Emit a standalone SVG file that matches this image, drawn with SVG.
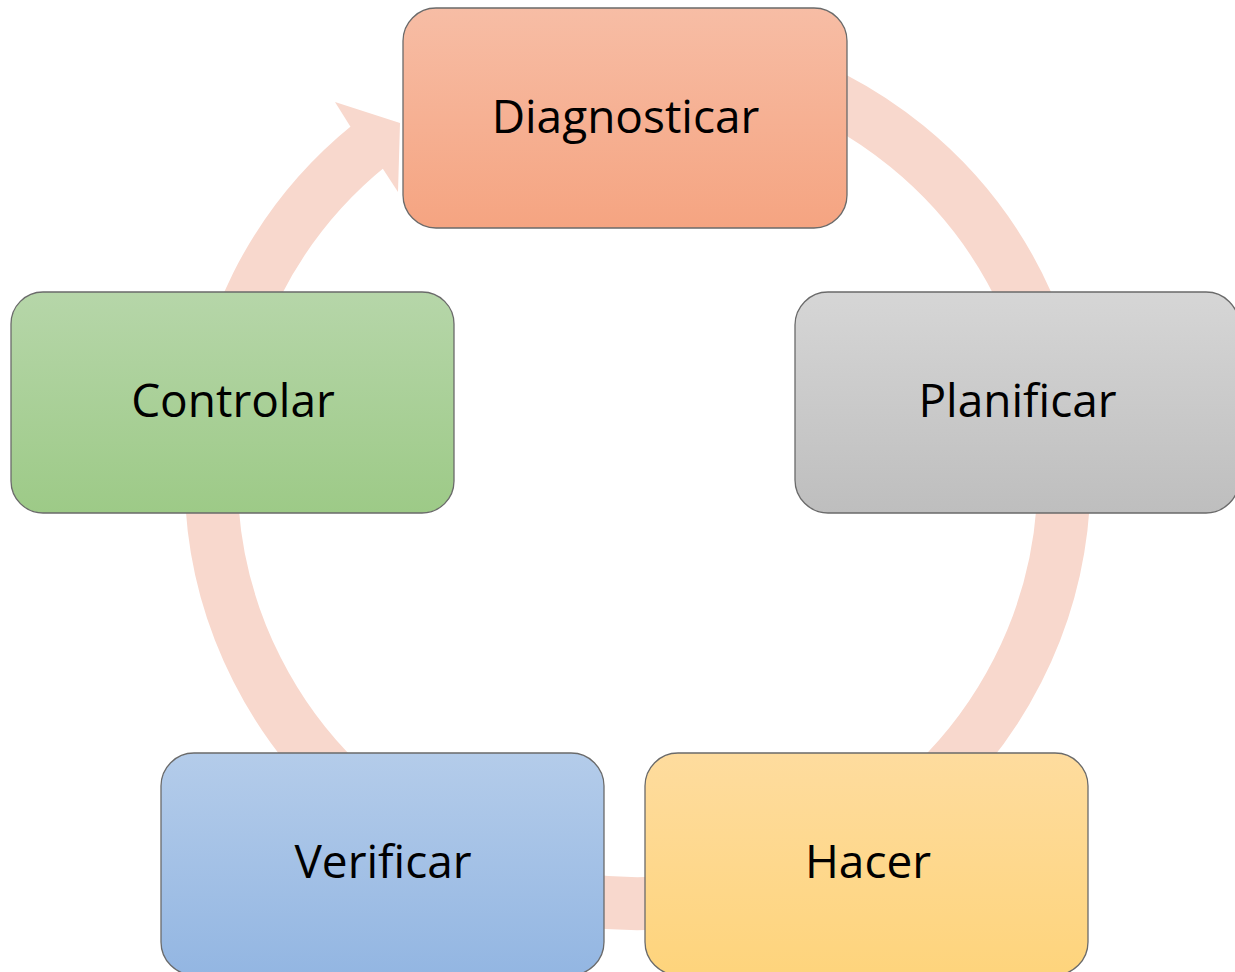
<svg xmlns="http://www.w3.org/2000/svg" width="1235" height="972" viewBox="0 0 1235 972">
<style>
.box{stroke:#6a6a6a;stroke-width:1.3}
.lbl{font-family:"Open Sans","Noto Sans",sans-serif;font-size:46px;fill:#000;text-anchor:middle}
.ring{fill:none;stroke:#F8D8CD;stroke-width:53}
</style>
<defs>
<linearGradient id="gOr" x1="0" y1="0" x2="0" y2="1"><stop offset="0" stop-color="#F7BDA5"/><stop offset="1" stop-color="#F5A481"/></linearGradient>
<linearGradient id="gGr" x1="0" y1="0" x2="0" y2="1"><stop offset="0" stop-color="#D6D6D6"/><stop offset="1" stop-color="#BEBEBE"/></linearGradient>
<linearGradient id="gYe" x1="0" y1="0" x2="0" y2="1"><stop offset="0" stop-color="#FEDC9E"/><stop offset="1" stop-color="#FED47C"/></linearGradient>
<linearGradient id="gBl" x1="0" y1="0" x2="0" y2="1"><stop offset="0" stop-color="#B4CCEA"/><stop offset="1" stop-color="#93B6E2"/></linearGradient>
<linearGradient id="gGn" x1="0" y1="0" x2="0" y2="1"><stop offset="0" stop-color="#B6D6A9"/><stop offset="1" stop-color="#9DCA87"/></linearGradient>
</defs>
<g id="connectors">
<path class="ring" d="M 747.9 65.0 A 426.5 426.5 0 1 1 369.1 145.6"/>
<polygon fill="#F8D8CD" points="350,126 335,102 400,123 398,192 383,169"/>
</g>
<g id="node-diagnosticar">
<rect class="box" x="403" y="8" width="444" height="220" rx="33" fill="url(#gOr)"/>
<text class="lbl" x="625.5" y="133">Diagnosticar</text>
</g>
<g id="node-planificar">
<rect class="box" x="795" y="292" width="444" height="221" rx="33" fill="url(#gGr)"/>
<text class="lbl" x="1017.5" y="417">Planificar</text>
</g>
<g id="node-hacer">
<rect class="box" x="645" y="753" width="443" height="222" rx="33" fill="url(#gYe)"/>
<text class="lbl" x="868" y="878">Hacer</text>
</g>
<g id="node-verificar">
<rect class="box" x="161" y="753" width="443" height="222" rx="33" fill="url(#gBl)"/>
<text class="lbl" x="383" y="878">Verificar</text>
</g>
<g id="node-controlar">
<rect class="box" x="11" y="292" width="443" height="221" rx="32" fill="url(#gGn)"/>
<text class="lbl" x="233" y="417">Controlar</text>
</g>
</svg>
